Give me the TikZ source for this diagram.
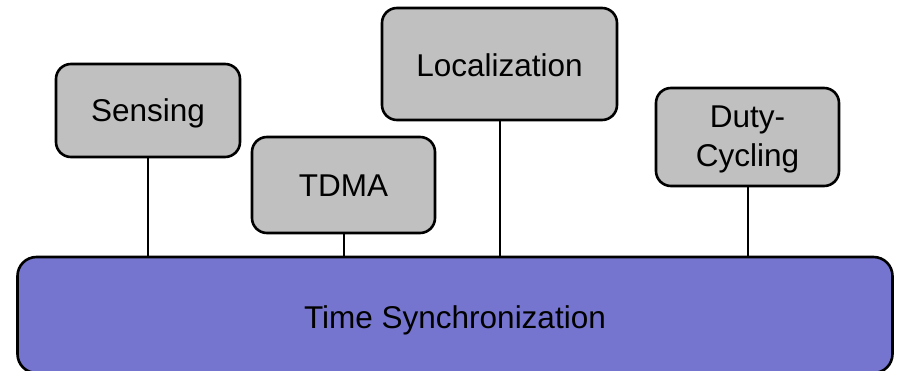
\documentclass[tikz,border=0pt]{standalone}
\usepackage{fontspec}
\setmainfont{Liberation Sans}
\definecolor{boxgray}{HTML}{C0C0C0}
\definecolor{syncblue}{HTML}{7575CF}
\begin{document}
\begin{tikzpicture}[x=1pt,y=-1pt,
  appbox/.style={draw=black, line width=2.6pt, fill=boxgray, rounded corners=15pt,
    inner sep=0pt},
  basebox/.style={draw=black, line width=2.6pt, fill=syncblue, rounded corners=19pt,
    inner sep=0pt},
  txt/.style={inner sep=0pt, align=center, font=\fontsize{31.5}{39}\selectfont},
  link/.style={draw=black, line width=2pt}]
\useasboundingbox (0,0) rectangle (898,371);
\begin{scope}
\clip (0,0) rectangle (898,371);
\node[basebox, minimum width=875pt, minimum height=116pt] (ts) at (455,315) {};
\end{scope}
\node[txt] (tst) at (455,320) {Time Synchronization};
\node[appbox, minimum width=184pt, minimum height=93pt] (sens) at (148,110.5) {};
\node[txt] (senst) at (148,113) {Sensing};
\node[appbox, minimum width=183pt, minimum height=96pt] (tdma) at (343.5,185) {};
\node[txt] (tdmat) at (343.5,186) {TDMA};
\node[appbox, minimum width=235pt, minimum height=112pt] (loc) at (499.5,64) {};
\node[txt] (loct) at (499.5,65) {Localization};
\node[appbox, minimum width=183pt, minimum height=98pt] (duty) at (747.5,137) {};
\node[txt] (dutyt) at (747.5,139) {Duty-\\Cycling};
\coordinate (ttop) at (455,257);
\draw[link] (sens.south) -- (sens.south |- ttop);
\draw[link] (tdma.south) -- (tdma.south |- ttop);
\draw[link] (loc.south) -- (loc.south |- ttop);
\draw[link] (duty.south) -- (duty.south |- ttop);
\end{tikzpicture}
\end{document}
